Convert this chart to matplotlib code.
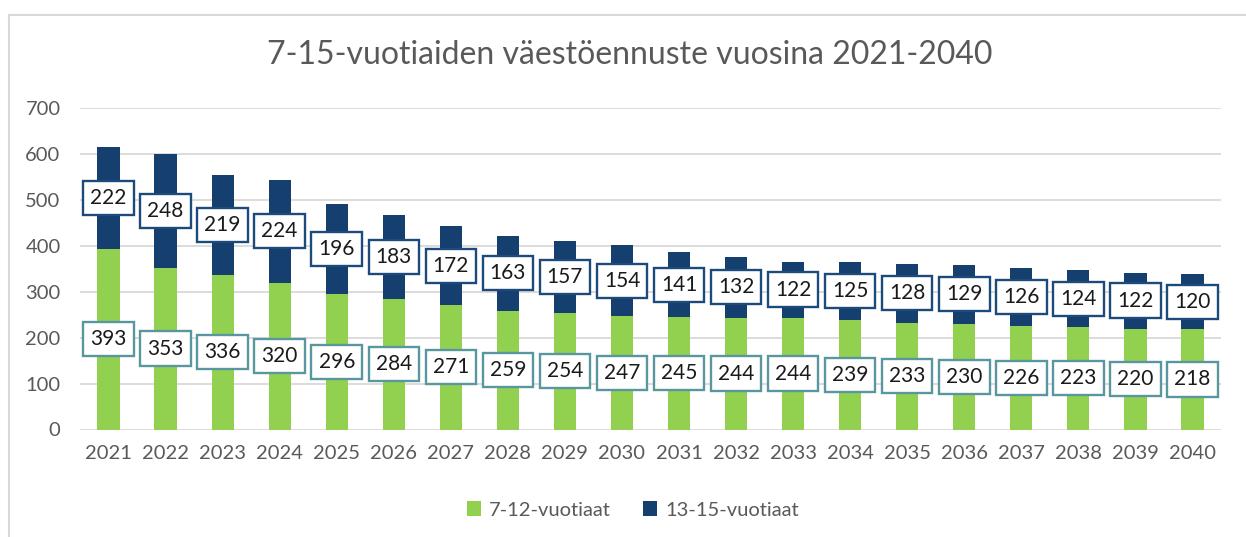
import matplotlib
matplotlib.use("Agg")
import matplotlib.pyplot as plt
from matplotlib.lines import Line2D
from matplotlib.patches import Patch

years = [str(y) for y in range(2021, 2041)]
age_7_12 = [393, 353, 336, 320, 296, 284, 271, 259, 254, 247, 245, 244, 244, 239, 233, 230, 226, 223, 220, 218]
age_13_15 = [222, 248, 219, 224, 196, 183, 172, 163, 157, 154, 141, 132, 122, 125, 128, 129, 126, 124, 122, 120]
series_names = ["7-12-vuotiaat", "13-15-vuotiaat"]
title = "7-15-vuotiaiden väestöennuste vuosina 2021-2040"

GREEN = "#92D050"
NAVY = "#143F6E"
GREEN_EDGE = "#5A969F"
NAVY_EDGE = "#1C4A7A"
GREY_TXT = "#595959"
GRID = "#D9D9D9"

plt.rcParams['font.family'] = ['Lato', 'DejaVu Sans']

W, H = 1246, 537
fig = plt.figure(figsize=(W / 100, H / 100), dpi=100)
ax = fig.add_axes([80 / W, 1 - 429.5 / H, (1221 - 80) / W, (429.5 - 108.3) / H])

x = list(range(len(years)))
bw = 0.39
ax.bar(x, age_7_12, width=bw, color=GREEN, zorder=2)
ax.bar(x, age_13_15, width=bw, bottom=age_7_12, color=NAVY, zorder=2)

for i in x:
    g = age_7_12[i]
    b = age_13_15[i]
    ax.text(i, g / 2, str(g), ha='center', va='center', fontsize=15, color='#1a1a1a', zorder=4,
            bbox=dict(boxstyle='square,pad=0.34', fc='white', ec=GREEN_EDGE, lw=1.7))
    ax.text(i, g + b / 2, str(b), ha='center', va='center', fontsize=15, color='#1a1a1a', zorder=4,
            bbox=dict(boxstyle='square,pad=0.34', fc='white', ec=NAVY_EDGE, lw=1.7))

ax.set_xlim(-0.5, len(years) - 0.5)
ax.set_ylim(0, 700)
ax.set_yticks(range(0, 701, 100))
ax.set_xticks(x)
ax.set_xticklabels(years)
ax.yaxis.grid(True, color=GRID, lw=1.3, zorder=0)
ax.set_axisbelow(True)
for s in ax.spines.values():
    s.set_visible(False)
ax.tick_params(axis='both', length=0, labelsize=14.5, colors=GREY_TXT)
ax.tick_params(axis='y', pad=14)
ax.tick_params(axis='x', pad=11)

fig.text(630 / W, 1 - 55 / H, title, ha='center', va='center', fontsize=23, color=GREY_TXT)

handles = [Patch(facecolor=GREEN, label=series_names[0]), Patch(facecolor=NAVY, label=series_names[1])]
leg = fig.legend(handles=handles, loc='center', bbox_to_anchor=(633 / W, 1 - 510 / H), ncol=2,
                 frameon=False, fontsize=14.5, handlelength=0.7, handleheight=0.7,
                 handletextpad=0.4, columnspacing=1.6)
for t in leg.get_texts():
    t.set_color(GREY_TXT)

fig.add_artist(Line2D([9 / W, 1], [1 - 15 / H, 1 - 15 / H], transform=fig.transFigure, color=GRID, lw=1.5))
fig.add_artist(Line2D([9 / W, 9 / W], [0, 1 - 15 / H], transform=fig.transFigure, color=GRID, lw=1.5))

fig.savefig("out.png", dpi=100)
